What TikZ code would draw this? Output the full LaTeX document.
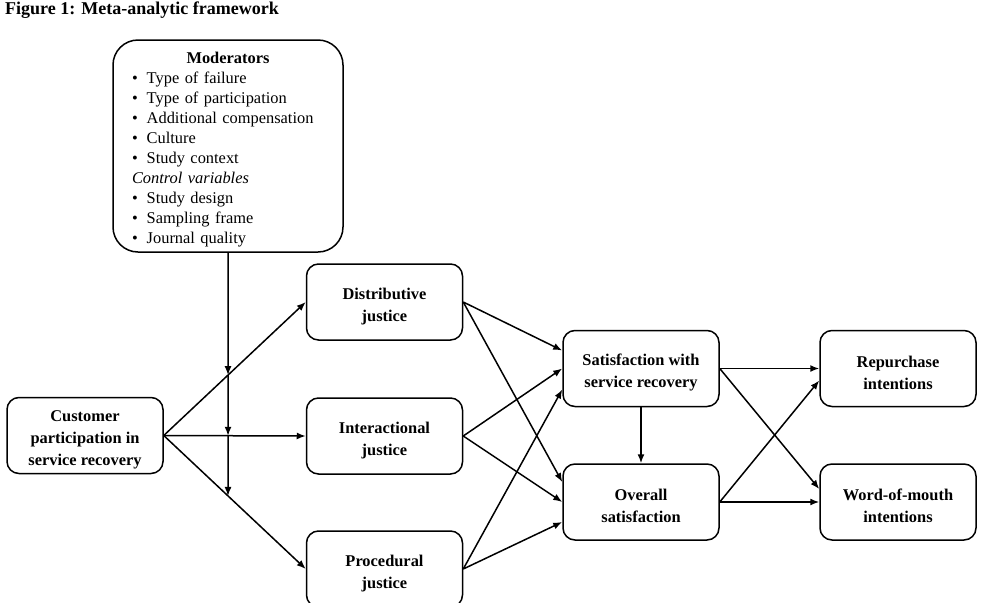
\documentclass[tikz,border=0pt]{standalone}
\usepackage{fontspec}
\setmainfont{Liberation Serif}
\usetikzlibrary{arrows.meta,positioning}
\newcommand{\boxstrut}{\rule{0pt}{19.5pt}}

\begin{document}
\begin{tikzpicture}[x=1pt,y=-1pt,
  box/.style={draw,line width=1.5pt,rounded corners=12pt,minimum width=156pt,minimum height=76pt,inner sep=2pt,align=center,font=\fontsize{16.4}{22}\selectfont\bfseries},
  modbox/.style={draw,line width=1.5pt,rounded corners=25pt,text width=192pt,inner xsep=19pt,minimum height=212pt,align=left,font=\fontsize{16.4}{20}\selectfont},
  arr/.style={line width=1.5pt,-{Latex[length=9pt,width=7pt]}}]
\useasboundingbox (0,0) rectangle (989,603);
\node[anchor=base west,inner sep=0pt,font=\fontsize{18}{22}\selectfont\bfseries] (title) at (5,14.5) {Figure 1: Meta-analytic framework};
% moderators
\node[modbox] (mod) at (228,146) {\boxstrut\makebox[\linewidth]{\textbf{Moderators}}\\
  \textbullet\hspace{9pt}Type of failure\\
  \textbullet\hspace{9pt}Type of participation\\
  \textbullet\hspace{9pt}Additional compensation\\
  \textbullet\hspace{9pt}Culture\\
  \textbullet\hspace{9pt}Study context\\
  \textit{Control variables}\\
  \textbullet\hspace{9pt}Study design\\
  \textbullet\hspace{9pt}Sampling frame\\
  \textbullet\hspace{9pt}Journal quality};
% constructs
\node[box] (cust) at (85,435.5) {\boxstrut Customer\\participation in\\service recovery};
\node[box] (dist) at (384.5,302) {\boxstrut Distributive\\justice};
\node[box] (inter) at (384.5,436) {\boxstrut Interactional\\justice};
\node[box] (proc) at (384.5,569) {\boxstrut Procedural\\justice};
\node[box] (sat) at (641,368.5) {\boxstrut Satisfaction with\\service recovery};
\node[box] (over) at (641,502) {\boxstrut Overall\\satisfaction};
\node[box] (rep) at (898,368.5) {\boxstrut Repurchase\\intentions};
\node[box] (wom) at (898,502) {\boxstrut Word-of-mouth\\intentions};
% participation -> justice
\draw[arr] (cust.east) -- (dist.west);
\draw[arr] (cust.east) -- (inter.west);
\draw[arr] (cust.east) -- (proc.west);
% moderating line
\coordinate (mlow) at (228,600);
\coordinate (hit1) at (intersection of mod.south--mlow and cust.east--dist.west);
\coordinate (hit2) at (intersection of mod.south--mlow and cust.east--inter.west);
\coordinate (hit3) at (intersection of mod.south--mlow and cust.east--proc.west);
\draw[arr] (mod.south) -- (hit1);
\draw[arr] (hit1) -- (hit2);
\draw[arr] (hit2) -- (hit3);
% justice -> satisfaction
\draw[arr] (dist.east) -- ([yshift=18pt]sat.west);
\draw[arr] (inter.east) -- (sat.west);
\draw[arr] (proc.east) -- ([yshift=-21pt]sat.west);
\draw[arr] (dist.east) -- ([yshift=20pt]over.west);
\draw[arr] (inter.east) -- (over.west);
\draw[arr] (proc.east) -- ([yshift=-20pt]over.west);
\draw[arr] (sat.south) -- (over.north);
% satisfaction -> intentions
\draw[arr] (sat.east) -- (rep.west);
\draw[arr] (sat.east) -- ([yshift=13pt]wom.west);
\draw[arr] (over.east) -- ([yshift=-12pt]rep.west);
\draw[arr] (over.east) -- (wom.west);
\end{tikzpicture}
\end{document}
